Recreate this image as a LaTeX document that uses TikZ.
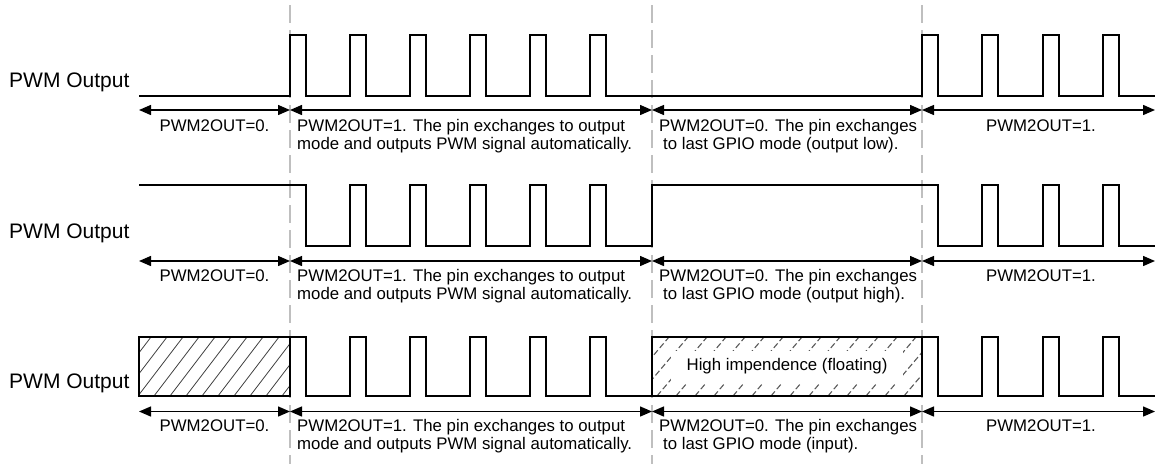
\documentclass[tikz,border=0pt]{standalone}
\usepackage{fontspec}
\setmainfont{Liberation Sans}
\usetikzlibrary{arrows.meta}
\begin{document}
\begin{tikzpicture}[x=1pt,y=-1pt,
  sig/.style={line width=2pt, line join=miter},
  dim/.style={line width=1.4pt, {Triangle[length=12pt,width=10pt]}-{Triangle[length=12pt,width=10pt]}},
  guide/.style={line width=2pt, draw=black!25, dash pattern=on 18pt off 7pt},
  lab/.style={font=\fontsize{16.8}{17.8}\selectfont, inner sep=0pt},
  rowlab/.style={font=\fontsize{21}{25}\selectfont, inner sep=0pt, anchor=base west},
  box/.style={line width=1.5pt},
  hatchA/.style={line width=0.8pt, draw=black!75},
  hatchB/.style={line width=1.1pt, draw=black!65, dash pattern=on 6pt off 3pt}]
\useasboundingbox (0,0) rectangle (1155,464);

% guide lines
\foreach \g/\x in {g1/290,g2/652,g3/922}{
  \coordinate (\g t) at (\x,5);
  \coordinate (\g b) at (\x,464);
  \draw[guide] (\g t) -- (\g b);
}

% ---------- Row 1 ----------
\node[rowlab] (p1) at (9,87) {PWM Output};
\draw[sig] (139,96) -- (290,96)
  \foreach \x in {290,350,410,470,530,590} { -- (\x,96) -- (\x,35) -- (\x+16,35) -- (\x+16,96) }
  -- (922,96)
  \foreach \x in {922,982,1043,1103} { -- (\x,96) -- (\x,35) -- (\x+16,35) -- (\x+16,96) }
  -- (1155,96);
\coordinate (a1) at (139,110); \coordinate (b1) at (290,110);
\coordinate (c1) at (652,110); \coordinate (d1) at (922,110);
\coordinate (e1) at (1155,110);
\draw[dim] (a1) -- (b1);
\draw[dim] (b1) -- (c1);
\draw[dim] (c1) -- (d1);
\draw[dim] (d1) -- (e1);
\node[lab, anchor=base] (t10) at (214.5,131.7) {PWM2OUT=0.};
\node[lab, anchor=north west, align=left] (t11) at (297,119.5) {PWM2OUT=1. The pin exchanges to output\\mode and outputs PWM signal automatically.};
\node[lab, anchor=north west, align=left] (t12) at (659,119.5) {PWM2OUT=0. The pin exchanges\\\hspace*{4pt}to last GPIO mode (output low).};
\node[lab, anchor=base] (t13) at (1041,131.7) {PWM2OUT=1.};

% ---------- Row 2 ----------
\node[rowlab] (p2) at (9,238) {PWM Output};
\draw[sig] (139,185) -- (306,185) -- (306,246)
  \foreach \x in {350,410,470,530,590} { -- (\x,246) -- (\x,185) -- (\x+16,185) -- (\x+16,246) }
  -- (652,246) -- (652,185) -- (938,185) -- (938,246)
  \foreach \x in {982,1043,1103} { -- (\x,246) -- (\x,185) -- (\x+16,185) -- (\x+16,246) }
  -- (1155,246);
\coordinate (a2) at (139,261); \coordinate (b2) at (290,261);
\coordinate (c2) at (652,261); \coordinate (d2) at (922,261);
\coordinate (e2) at (1155,261);
\draw[dim] (a2) -- (b2);
\draw[dim] (b2) -- (c2);
\draw[dim] (c2) -- (d2);
\draw[dim] (d2) -- (e2);
\node[lab, anchor=base] (t20) at (214.5,281.7) {PWM2OUT=0.};
\node[lab, anchor=north west, align=left] (t21) at (297,269.5) {PWM2OUT=1. The pin exchanges to output\\mode and outputs PWM signal automatically.};
\node[lab, anchor=north west, align=left] (t22) at (659,269.5) {PWM2OUT=0. The pin exchanges\\\hspace*{4pt}to last GPIO mode (output high).};
\node[lab, anchor=base] (t23) at (1041,281.7) {PWM2OUT=1.};

% ---------- Row 3 ----------
\node[rowlab] (p3) at (9,388) {PWM Output};
\begin{scope}
  \clip (139,337) rectangle (290,396);
  \foreach \i in {0,...,14} \draw[hatchA] (90+\i*16,396) -- ++(45,-59);
\end{scope}
\draw[box] (139,337) rectangle (290,396);
\begin{scope}
  \clip (652,337) rectangle (922,396);
  \foreach \i in {0,...,17} \draw[hatchB] (600+\i*19,396) -- ++(50,-59);
\end{scope}
\node[fill=white, minimum width=232pt, minimum height=32pt, inner sep=0pt,
      font=\fontsize{16.8}{17.8}\selectfont] (hz) at (787,366.5) {High impendence (floating)};
\draw[box] (652,337) rectangle (922,396);
\draw[sig] (290,396) -- (290,337) -- (306,337) -- (306,396)
  \foreach \x in {350,410,470,530,590} { -- (\x,396) -- (\x,337) -- (\x+16,337) -- (\x+16,396) }
  -- (652,396);
\draw[sig] (922,337) -- (938,337) -- (938,396)
  \foreach \x in {982,1043,1103} { -- (\x,396) -- (\x,337) -- (\x+16,337) -- (\x+16,396) }
  -- (1155,396);
\coordinate (a3) at (139,411.5); \coordinate (b3) at (290,411.5);
\coordinate (c3) at (652,411.5); \coordinate (d3) at (922,411.5);
\coordinate (e3) at (1155,411.5);
\draw[dim] (a3) -- (b3);
\draw[dim] (b3) -- (c3);
\draw[dim] (c3) -- (d3);
\draw[dim] (d3) -- (e3);
\node[lab, anchor=base] (t30) at (214.5,431.7) {PWM2OUT=0.};
\node[lab, anchor=north west, align=left] (t31) at (297,419.5) {PWM2OUT=1. The pin exchanges to output\\mode and outputs PWM signal automatically.};
\node[lab, anchor=north west, align=left] (t32) at (659,419.5) {PWM2OUT=0. The pin exchanges\\\hspace*{4pt}to last GPIO mode (input).};
\node[lab, anchor=base] (t33) at (1041,431.7) {PWM2OUT=1.};
\end{tikzpicture}
\end{document}
